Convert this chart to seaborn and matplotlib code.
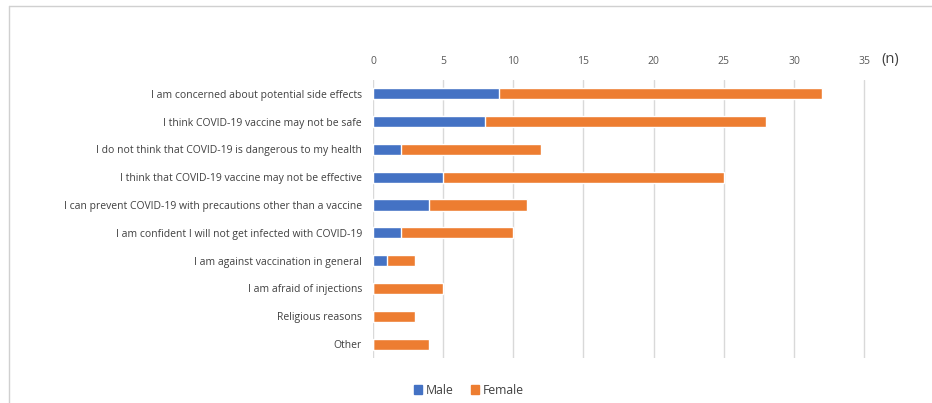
import numpy as np
import pandas as pd
import matplotlib
matplotlib.use("Agg")
import matplotlib.pyplot as plt
import seaborn as sns
from matplotlib.lines import Line2D
from matplotlib.patches import Patch

reasons = [
    "I am concerned about potential side effects",
    "I think COVID-19 vaccine may not be safe",
    "I do not think that COVID-19 is dangerous to my health",
    "I think that COVID-19 vaccine may not be effective",
    "I can prevent COVID-19 with precautions other than a vaccine",
    "I am confident I will not get infected with COVID-19",
    "I am against vaccination in general",
    "I am afraid of injections",
    "Religious reasons",
    "Other",
]
male = [9, 8, 2, 5, 4, 2, 1, 0, 0, 0]
female = [23, 20, 10, 20, 7, 8, 2, 5, 3, 4]

df = pd.DataFrame({"reason": reasons, "Male": male, "Female": female})
df["total"] = df["Male"] + df["Female"]

sns.set_style("white")
plt.rcParams["font.family"] = ["Open Sans", "DejaVu Sans"]

blue = "#4472C4"
orange = "#ED7D31"

fig = plt.figure(figsize=(9.32, 4.03), dpi=100)
ax = fig.add_axes([0.4002, 0.1117, 0.5285, 0.69])

# stacked: totals in orange, male drawn over the left part
sns.barplot(data=df, y="reason", x="total", color=orange, width=0.4,
            saturation=1, ax=ax, orient="h")
sns.barplot(data=df, y="reason", x="Male", color=blue, width=0.4,
            saturation=1, ax=ax, orient="h")

ax.set_xlim(0, 35.1)
ax.set_xticks(np.arange(0, 36, 5))
ax.xaxis.tick_top()
ax.tick_params(axis="x", length=0, labelsize=7.5, colors="#595959", pad=9)
ax.tick_params(axis="y", length=0, labelsize=7.5, colors="#404040", pad=8)
ax.set_xlabel("")
ax.set_ylabel("")
ax.grid(axis="x", color="#d9d9d9", linewidth=1)
ax.set_axisbelow(True)
for s in ax.spines.values():
    s.set_visible(False)

ax.text(1.05, 1.045, "(n)", transform=ax.transAxes, fontsize=10.5,
        color="#404040", ha="center", va="bottom")

handles = [Patch(color=blue, label="Male"), Patch(color=orange, label="Female")]
fig.legend(handles=handles, loc="center", bbox_to_anchor=(0.503, 0.032),
           ncol=2, frameon=False, fontsize=8.8, handlelength=0.7,
           handleheight=0.7, handletextpad=0.3, columnspacing=1.4,
           labelcolor="#404040")

# outer frame lines (top and left)
fig.add_artist(Line2D([0.0097, 1.0], [0.985, 0.985], color="#d0d0d0",
                      linewidth=1, transform=fig.transFigure))
fig.add_artist(Line2D([0.0097, 0.0097], [0.0, 0.985], color="#d0d0d0",
                      linewidth=1, transform=fig.transFigure))

fig.savefig("out.png", dpi=100)
